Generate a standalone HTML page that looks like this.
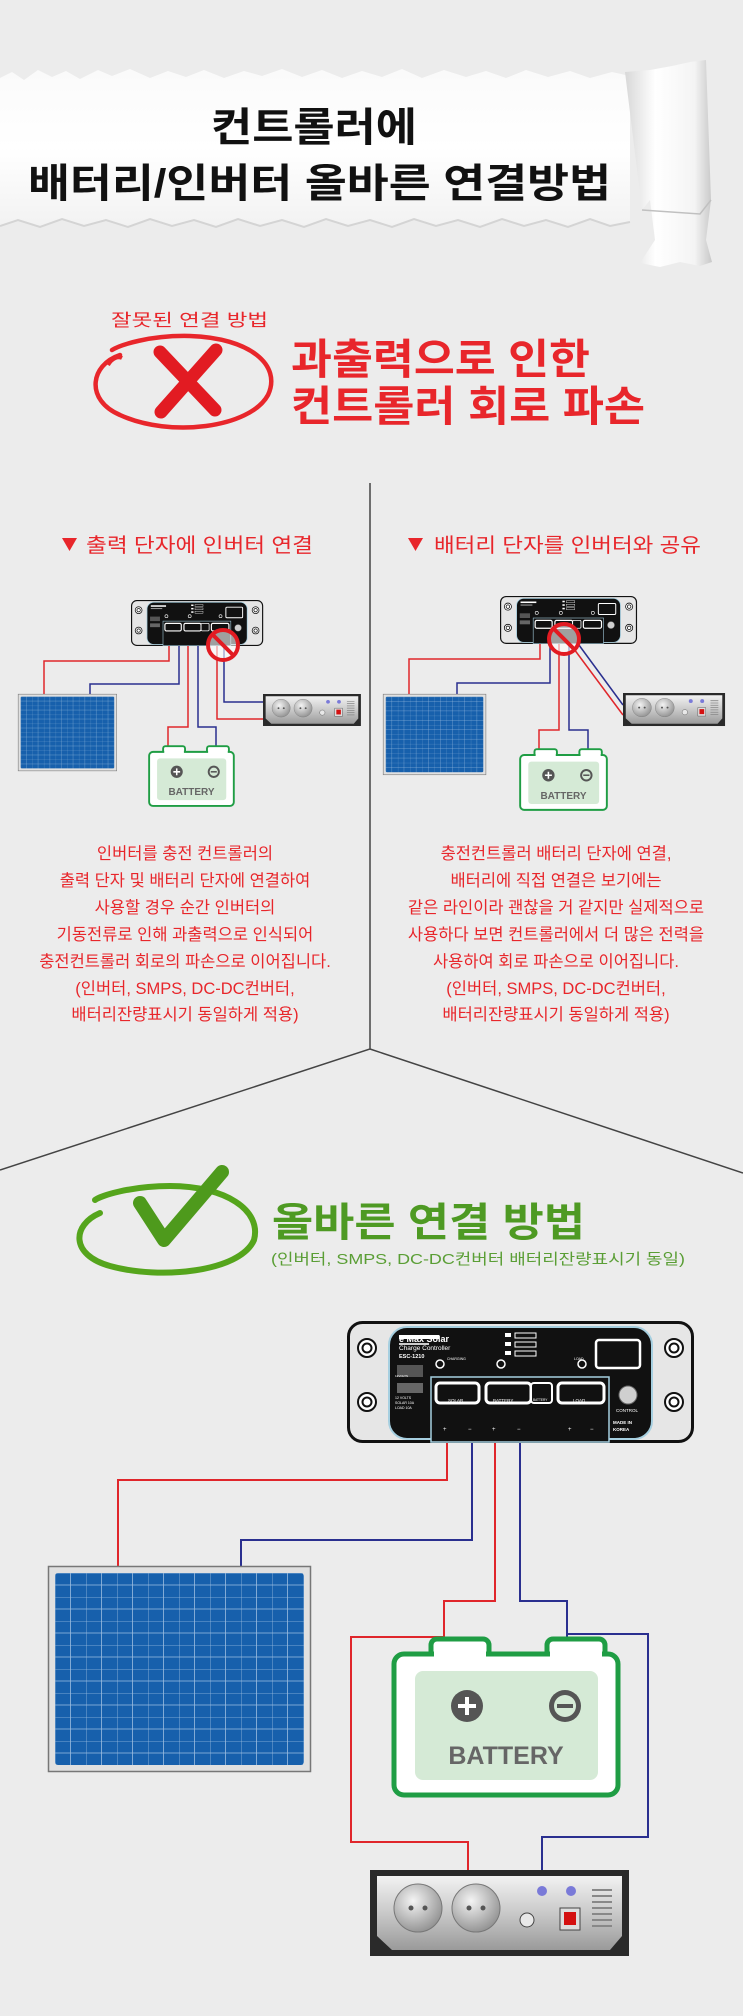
<!DOCTYPE html>
<html><head><meta charset="utf-8"><style>
html,body{margin:0;padding:0;background:#ececec;}
svg{display:block;}
text{font-family:"Liberation Sans","Noto Sans CJK KR",sans-serif;}
</style></head><body>
<svg width="743" height="2016" viewBox="0 0 743 2016" xmlns="http://www.w3.org/2000/svg">
<defs>
<linearGradient id="curl" x1="0" x2="1" y1="0" y2="0">
<stop offset="0" stop-color="#d8d8d8"/><stop offset="0.35" stop-color="#ffffff"/><stop offset="0.8" stop-color="#f4f4f4"/><stop offset="1" stop-color="#c8c8c8"/></linearGradient>
<linearGradient id="paper" x1="0" x2="0" y1="0" y2="1">
<stop offset="0" stop-color="#fafafa"/><stop offset="0.5" stop-color="#ffffff"/><stop offset="1" stop-color="#f2f2f2"/></linearGradient>
<linearGradient id="silver" x1="0" x2="0" y1="0" y2="1">
<stop offset="0" stop-color="#f2f2f2"/><stop offset="0.5" stop-color="#c9c9c9"/><stop offset="1" stop-color="#9a9a9a"/></linearGradient>
<radialGradient id="sock" cx="0.4" cy="0.35" r="0.7"><stop offset="0" stop-color="#f4f4f4"/><stop offset="1" stop-color="#8f8f8f"/></radialGradient>
<pattern id="grid" width="31" height="24" patternUnits="userSpaceOnUse" x="7" y="7">
<rect width="31" height="24" fill="#1760ac"/>
<path d="M0 0V24M0 0H31M15.5 0V24M0 12H31" stroke="#9bbde0" stroke-width="0.8" fill="none"/>
</pattern>
<g id="ctrl">
<rect x="1.5" y="1.5" width="344" height="119" rx="14" fill="#e6e6e6" stroke="#111" stroke-width="3"/>
<circle cx="20" cy="27" r="9" fill="#fff" stroke="#111" stroke-width="2"/><circle cx="20" cy="27" r="4.5" fill="none" stroke="#111" stroke-width="2"/>
<circle cx="20" cy="81" r="9" fill="#fff" stroke="#111" stroke-width="2"/><circle cx="20" cy="81" r="4.5" fill="none" stroke="#111" stroke-width="2"/>
<circle cx="327" cy="27" r="9" fill="#fff" stroke="#111" stroke-width="2"/><circle cx="327" cy="27" r="4.5" fill="none" stroke="#111" stroke-width="2"/>
<circle cx="327" cy="81" r="9" fill="#fff" stroke="#111" stroke-width="2"/><circle cx="327" cy="81" r="4.5" fill="none" stroke="#111" stroke-width="2"/>
<rect x="42" y="6" width="263" height="112" rx="18" fill="#111" stroke="#a6cfe0" stroke-width="2"/>
<rect x="84" y="56" width="178" height="65" fill="#111" stroke="#a6cfe0" stroke-width="1.5"/>
<rect x="89" y="62" width="43" height="20" rx="4" fill="#111" stroke="#fff" stroke-width="3"/>
<rect x="139" y="62" width="45" height="20" rx="4" fill="#111" stroke="#fff" stroke-width="3"/>
<rect x="184" y="62" width="21" height="20" rx="3" fill="#111" stroke="#fff" stroke-width="2"/>
<rect x="211" y="62" width="46" height="20" rx="4" fill="#111" stroke="#fff" stroke-width="3"/>
<rect x="249" y="19" width="44" height="28" rx="3" fill="#111" stroke="#fff" stroke-width="2.5"/>
<circle cx="281" cy="74" r="9" fill="#cfcfcf" stroke="#666"/>
<circle cx="93" cy="43" r="4" fill="none" stroke="#fff" stroke-width="1.5"/>
<circle cx="154" cy="43" r="4" fill="none" stroke="#fff" stroke-width="1.5"/>
<circle cx="235" cy="43" r="4" fill="none" stroke="#fff" stroke-width="1.5"/>
<rect x="168" y="12" width="21" height="5" fill="none" stroke="#fff"/><rect x="168" y="21" width="21" height="5" fill="none" stroke="#fff"/><rect x="168" y="30" width="21" height="5" fill="none" stroke="#fff"/>
<rect x="158" y="12" width="6" height="4" fill="#fff"/><rect x="158" y="21" width="6" height="4" fill="#fff"/><rect x="158" y="30" width="6" height="4" fill="#fff"/>
<rect x="52" y="14" width="40" height="4" fill="#fff"/><rect x="52" y="22" width="30" height="2" fill="#ccc"/>
<rect x="50" y="44" width="26" height="12" fill="#555"/><rect x="50" y="62" width="26" height="10" fill="#666"/>
</g>
<g id="panel">
<rect x="0.5" y="0.5" width="262" height="205" fill="#e0e0e0" stroke="#777" stroke-width="1.5"/>
<rect x="7" y="7" width="249" height="192" fill="url(#grid)" rx="3"/>
</g>
<g id="batt">
<rect x="40" y="3" width="58" height="24" rx="6" fill="#fff" stroke="#1f9d44" stroke-width="5"/>
<rect x="156" y="3" width="58" height="24" rx="6" fill="#fff" stroke="#1f9d44" stroke-width="5"/>
<rect x="3" y="18" width="224" height="141" rx="10" fill="#fff" stroke="#1f9d44" stroke-width="5"/>
<rect x="43" y="14" width="52" height="8" fill="#fff"/><rect x="159" y="14" width="52" height="8" fill="#fff"/>
<rect x="24" y="35" width="183" height="109" rx="8" fill="#d5ead6"/>
<circle cx="76" cy="70" r="16" fill="#555"/><path d="M67 70H85M76 61V79" stroke="#fff" stroke-width="4"/>
<circle cx="174" cy="70" r="16" fill="#555"/><circle cx="174" cy="70" r="11" fill="#d5ead6"/><path d="M166 70H182" stroke="#555" stroke-width="4"/>
</g>
<g id="inv">
<rect x="0" y="0" width="259" height="86" fill="#2a2a2a"/>
<path d="M7 6H252V66L240 80H22L7 66Z" fill="url(#silver)"/>
<circle cx="48" cy="38" r="24" fill="url(#sock)" stroke="#777"/><circle cx="41" cy="38" r="2.5" fill="#555"/><circle cx="55" cy="38" r="2.5" fill="#555"/>
<circle cx="106" cy="38" r="24" fill="url(#sock)" stroke="#777"/><circle cx="99" cy="38" r="2.5" fill="#555"/><circle cx="113" cy="38" r="2.5" fill="#555"/>
<circle cx="172" cy="21" r="5" fill="#7a7ad8"/><circle cx="201" cy="21" r="5" fill="#7a7ad8"/>
<circle cx="157" cy="50" r="7" fill="#e8e8e8" stroke="#444"/>
<rect x="190" y="38" width="20" height="22" fill="#ddd" stroke="#444"/><rect x="194" y="42" width="12" height="13" fill="#d41010"/>
<path d="M222 20H242M222 26H242M222 32H242M222 38H242M222 44H242M222 50H242M222 56H242" stroke="#888" stroke-width="2"/>
</g>
</defs>

<rect width="743" height="2016" fill="#ececec"/>

<!-- torn paper -->
<path d="M0 78 L12 72 L24 80 L38 70 L52 77 L66 71 L80 79 L98 70 L112 76 L130 69 L150 78 L168 71 L186 77 L204 70 L224 78 L244 71 L262 76 L282 69 L302 77 L322 70 L342 78 L362 71 L382 77 L402 69 L422 78 L444 70 L466 77 L486 71 L506 78 L526 70 L548 77 L570 71 L590 78 L612 72 L630 76 L630 222 L610 226 L590 219 L568 227 L546 220 L524 226 L502 219 L480 227 L458 220 L436 226 L414 219 L392 227 L370 220 L348 226 L326 219 L304 227 L282 220 L260 226 L238 219 L216 227 L194 220 L172 226 L150 219 L128 227 L106 220 L84 226 L62 219 L40 227 L18 220 L0 226 Z" fill="url(#paper)"/>
<path d="M0 226 L18 220 L40 227 L62 219 L84 226 L106 220 L128 227 L150 219 L172 226 L194 220 L216 227 L238 219 L260 226 L282 220 L304 227 L326 219 L348 226 L370 220 L392 227 L414 219 L436 226 L458 220 L480 227 L502 219 L524 226 L546 220 L568 227 L590 219 L610 226 L630 222" fill="none" stroke="#d4d4d4" stroke-width="2"/>
<path d="M625 72 L650 70 L672 66 L690 62 L706 60 L711 200 L706 240 L712 262 L700 266 L680 262 L660 267 L640 263 L655 240 L650 200 L642 210 Z" fill="url(#curl)"/>
<path d="M642 210 L700 214 L711 200" fill="none" stroke="#c0c0c0" stroke-width="1.5"/>

<text x="211" y="141" font-size="40" font-weight="bold" fill="#111" textLength="206" lengthAdjust="spacingAndGlyphs">컨트롤러에</text>
<text x="28" y="197" font-size="40" font-weight="bold" fill="#111" textLength="583" lengthAdjust="spacingAndGlyphs">배터리/인버터 올바른 연결방법</text>

<!-- wrong method -->
<text x="111" y="326" font-size="17" fill="#e8262b" textLength="157" lengthAdjust="spacingAndGlyphs">잘못된 연결 방법</text>
<path d="M120 355 C 90 365 85 400 120 415 C 170 438 250 428 268 395 C 282 365 250 338 190 336 C 150 335 120 345 112 350" fill="none" stroke="#e8262b" stroke-width="4.5" stroke-linecap="round"/>
<path d="M108 365 C 112 358 118 356 122 358" fill="none" stroke="#e8262b" stroke-width="4"/>
<path d="M160 352 L215 410 M216 350 L161 412" stroke="#e21b22" stroke-width="13" stroke-linecap="round"/>
<text x="291" y="374" font-size="42" font-weight="bold" fill="#e8262b" textLength="299" lengthAdjust="spacingAndGlyphs">과출력으로 인한</text>
<text x="291" y="421" font-size="42" font-weight="bold" fill="#e8262b" textLength="354" lengthAdjust="spacingAndGlyphs">컨트롤러 회로 파손</text>

<!-- divider -->
<path d="M370 483 V1049 L0 1170 M370 1049 L743 1173" stroke="#444" stroke-width="1.5" fill="none"/>

<!-- headings -->
<path d="M62 538 L77 538 L69.5 551 Z" fill="#e8262b"/>
<text x="86" y="552" font-size="20" fill="#e8262b" textLength="227" lengthAdjust="spacingAndGlyphs">출력 단자에 인버터 연결</text>
<path d="M408 538 L423 538 L415.5 551 Z" fill="#e8262b"/>
<text x="434" y="552" font-size="20" fill="#e8262b" textLength="267" lengthAdjust="spacingAndGlyphs">배터리 단자를 인버터와 공유</text>

<!-- left small diagram wires -->
<g fill="none" stroke-width="1.5">
<path d="M44 694 V661 H169 V640" stroke="#e0262b"/>
<path d="M90 694 V684 H179 V640" stroke="#2a2f8f"/>
<path d="M188 640 V727 H168 V747" stroke="#e0262b"/>
<path d="M198 640 V727 H216 V747" stroke="#2a2f8f"/>
<path d="M224 640 V702 H264" stroke="#2a2f8f"/>
<path d="M217 640 V719 H264" stroke="#e0262b"/>
</g>
<use href="#ctrl" transform="translate(131 600) scale(0.381 0.377)"/>
<use href="#panel" transform="translate(18 694) scale(0.376 0.374)"/>
<use href="#batt" transform="translate(148 745) scale(0.378 0.383)"/>
<text x="191.5" y="795" font-size="10" font-weight="bold" fill="#666" text-anchor="middle">BATTERY</text>
<use href="#inv" transform="translate(263 694) scale(0.378 0.372)"/>
<circle cx="223" cy="645" r="15" fill="rgba(255,255,255,0.6)" stroke="#e21b22" stroke-width="4"/>
<path d="M213 635 L233 655" stroke="#e21b22" stroke-width="4"/>

<!-- right small diagram wires -->
<g fill="none" stroke-width="1.5">
<path d="M409 694 V659 H540 V640" stroke="#e0262b"/>
<path d="M457 694 V683 H550 V640" stroke="#2a2f8f"/>
<path d="M559 640 V730 H539 V750" stroke="#e0262b"/>
<path d="M569 640 V730 H588 V750" stroke="#2a2f8f"/>
<path d="M571 645 L623 715" stroke="#e0262b"/>
<path d="M576 641 L623 705" stroke="#2a2f8f"/>
</g>
<use href="#ctrl" transform="translate(500 596) scale(0.395 0.393)"/>
<use href="#panel" transform="translate(383 694) scale(0.392 0.393)"/>
<use href="#batt" transform="translate(519 748) scale(0.387 0.389)"/>
<text x="563.5" y="799" font-size="10" font-weight="bold" fill="#666" text-anchor="middle">BATTERY</text>
<use href="#inv" transform="translate(623 693) scale(0.394 0.384)"/>
<circle cx="564" cy="639" r="15" fill="rgba(255,255,255,0.6)" stroke="#e21b22" stroke-width="4"/>
<path d="M554 629 L574 649" stroke="#e21b22" stroke-width="4"/>

<!-- paragraphs -->
<g font-size="16.5" fill="#e8262b" text-anchor="middle">
<text x="185" y="859">인버터를 충전 컨트롤러의</text>
<text x="185" y="886">출력 단자 및 배터리 단자에 연결하여</text>
<text x="185" y="913">사용할 경우 순간 인버터의</text>
<text x="185" y="940">기동전류로 인해 과출력으로 인식되어</text>
<text x="185" y="967">충전컨트롤러 회로의 파손으로 이어집니다.</text>
<text x="185" y="994">(인버터, SMPS, DC-DC컨버터,</text>
<text x="185" y="1020">배터리잔량표시기 동일하게 적용)</text>
<text x="556" y="859">충전컨트롤러 배터리 단자에 연결,</text>
<text x="556" y="886">배터리에 직접 연결은 보기에는</text>
<text x="556" y="913">같은 라인이라 괜찮을 거 같지만 실제적으로</text>
<text x="556" y="940">사용하다 보면 컨트롤러에서 더 많은 전력을</text>
<text x="556" y="967">사용하여 회로 파손으로 이어집니다.</text>
<text x="556" y="994">(인버터, SMPS, DC-DC컨버터,</text>
<text x="556" y="1020">배터리잔량표시기 동일하게 적용)</text>
</g>

<!-- correct method -->
<path d="M100 1213 C 72 1225 70 1255 110 1266 C 160 1280 240 1272 254 1240 C 262 1210 225 1186 170 1186 C 130 1186 100 1196 95 1200" fill="none" stroke="#55a51c" stroke-width="6" stroke-linecap="round"/>
<path d="M140 1203 L164 1240 L222 1172" fill="none" stroke="#4e9a1c" stroke-width="14" stroke-linecap="round" stroke-linejoin="round"/>
<text x="272" y="1236" font-size="40" font-weight="bold" fill="#4e9a23" textLength="313" lengthAdjust="spacingAndGlyphs">올바른 연결 방법</text>
<text x="271" y="1264" font-size="15" fill="#5a9e35" textLength="414" lengthAdjust="spacingAndGlyphs">(인버터, SMPS, DC-DC컨버터 배터리잔량표시기 동일)</text>

<!-- big diagram wires -->
<g fill="none" stroke-width="2">
<path d="M447 1440 V1480 H118 V1566" stroke="#e0262b"/>
<path d="M472 1440 V1540 H241 V1566" stroke="#2a2f8f"/>
<path d="M495 1440 V1601 H444 V1640" stroke="#e0262b"/>
<path d="M444 1637 H351 V1842 H468 V1870" stroke="#e0262b"/>
<path d="M520 1440 V1601 H567 V1640" stroke="#2a2f8f"/>
<path d="M567 1634 H648 V1837 H542 V1870" stroke="#2a2f8f"/>
</g>
<use href="#ctrl" transform="translate(347 1321)"/>
<g fill="#fff" font-size="6">
<text x="399" y="1342" font-size="9" font-weight="bold">e Max Solar</text>
<text x="399" y="1350" font-size="6.5" font-family="Liberation Serif, serif">Charge Controller</text>
<text x="399" y="1358" font-size="5.5" font-weight="bold">ESC-1210</text>
<text x="447" y="1360" font-size="3.5">CHARGING</text>
<text x="574" y="1360" font-size="3.5">LOAD</text>
<text x="448" y="1402" font-size="4.5">SOLAR</text>
<text x="493" y="1402" font-size="4.5">BATTERY</text>
<text x="533" y="1401" font-size="3.2">BATTERY</text>
<text x="573" y="1402" font-size="4.5">LOAD</text>
<text x="616" y="1412" font-size="4.5">CONTROL</text>
<text x="613" y="1424" font-size="4.5" font-weight="bold">MADE IN</text>
<text x="613" y="1431" font-size="4.5" font-weight="bold">KOREA</text>
<text x="395" y="1377" font-size="3">12VOLTS</text>
<text x="395" y="1399" font-size="3.5">12 VOLTS</text>
<text x="395" y="1404" font-size="3.5">SOLAR 10A</text>
<text x="395" y="1409" font-size="3.5">LOAD 10A</text>
<text x="443" y="1431" font-size="6">+</text><text x="468" y="1431" font-size="6">−</text>
<text x="492" y="1431" font-size="6">+</text><text x="517" y="1431" font-size="6">−</text>
<text x="568" y="1431" font-size="6">+</text><text x="590" y="1431" font-size="6">−</text>
</g>
<use href="#panel" transform="translate(48 1566)"/>
<use href="#batt" transform="translate(391 1636)"/>
<text x="506" y="1764" font-size="25" font-weight="bold" fill="#666" text-anchor="middle">BATTERY</text>
<use href="#inv" transform="translate(370 1870)"/>
</svg>
</body></html>
